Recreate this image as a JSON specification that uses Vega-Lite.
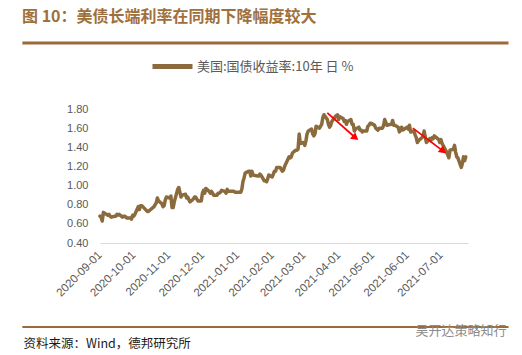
{
  "$schema": "https://vega.github.io/schema/vega-lite/v6.json",
  "width": 368,
  "height": 134,
  "autosize": {"type": "none"},
  "padding": {"left": 100, "top": 109, "right": 54, "bottom": 112},
  "background": "white",
  "config": {
    "view": {"stroke": null},
    "font": "Noto Sans CJK SC",
    "axis": {"labelOverlap": false, "labelFlush": false, "labelBound": false}
  },
  "title": {
    "text": "图 10：美债长端利率在同期下降幅度较大",
    "anchor": "start",
    "frame": "group",
    "orient": "top",
    "dx": -78,
    "offset": 16,
    "fontSize": 16,
    "fontWeight": "bold",
    "color": "#A0703C",
    "font": "Noto Sans CJK SC"
  },
  "layer": [
    {
      "data": {"values": [
        {"date":"2020-09-01","value":0.68},{"date":"2020-09-02","value":0.67},{"date":"2020-09-03","value":0.63},{"date":"2020-09-04","value":0.72},{"date":"2020-09-08","value":0.69},{"date":"2020-09-09","value":0.70},{"date":"2020-09-10","value":0.68},{"date":"2020-09-11","value":0.67},{"date":"2020-09-14","value":0.68},{"date":"2020-09-15","value":0.68},{"date":"2020-09-16","value":0.70},{"date":"2020-09-17","value":0.69},{"date":"2020-09-18","value":0.70},{"date":"2020-09-21","value":0.67},{"date":"2020-09-22","value":0.68},{"date":"2020-09-23","value":0.68},{"date":"2020-09-24","value":0.67},{"date":"2020-09-25","value":0.66},{"date":"2020-09-28","value":0.66},{"date":"2020-09-29","value":0.65},{"date":"2020-09-30","value":0.69},
        {"date":"2020-10-01","value":0.68},{"date":"2020-10-02","value":0.70},{"date":"2020-10-05","value":0.78},{"date":"2020-10-06","value":0.75},{"date":"2020-10-07","value":0.79},{"date":"2020-10-08","value":0.79},{"date":"2020-10-09","value":0.78},{"date":"2020-10-13","value":0.73},{"date":"2020-10-14","value":0.73},{"date":"2020-10-15","value":0.74},{"date":"2020-10-16","value":0.75},{"date":"2020-10-19","value":0.78},{"date":"2020-10-20","value":0.80},{"date":"2020-10-21","value":0.82},{"date":"2020-10-22","value":0.87},{"date":"2020-10-23","value":0.84},{"date":"2020-10-26","value":0.81},{"date":"2020-10-27","value":0.78},{"date":"2020-10-28","value":0.79},{"date":"2020-10-29","value":0.85},{"date":"2020-10-30","value":0.88},
        {"date":"2020-11-02","value":0.87},{"date":"2020-11-03","value":0.89},{"date":"2020-11-04","value":0.77},{"date":"2020-11-05","value":0.77},{"date":"2020-11-06","value":0.83},{"date":"2020-11-09","value":0.96},{"date":"2020-11-10","value":0.98},{"date":"2020-11-12","value":0.88},{"date":"2020-11-13","value":0.90},{"date":"2020-11-16","value":0.91},{"date":"2020-11-17","value":0.87},{"date":"2020-11-18","value":0.88},{"date":"2020-11-19","value":0.85},{"date":"2020-11-20","value":0.83},{"date":"2020-11-23","value":0.86},{"date":"2020-11-24","value":0.88},{"date":"2020-11-25","value":0.88},{"date":"2020-11-27","value":0.84},{"date":"2020-11-30","value":0.84},
        {"date":"2020-12-01","value":0.92},{"date":"2020-12-02","value":0.95},{"date":"2020-12-03","value":0.92},{"date":"2020-12-04","value":0.97},{"date":"2020-12-07","value":0.94},{"date":"2020-12-08","value":0.92},{"date":"2020-12-09","value":0.94},{"date":"2020-12-10","value":0.92},{"date":"2020-12-11","value":0.90},{"date":"2020-12-14","value":0.90},{"date":"2020-12-15","value":0.92},{"date":"2020-12-16","value":0.92},{"date":"2020-12-17","value":0.93},{"date":"2020-12-18","value":0.95},{"date":"2020-12-21","value":0.94},{"date":"2020-12-22","value":0.92},{"date":"2020-12-23","value":0.96},{"date":"2020-12-24","value":0.94},{"date":"2020-12-28","value":0.94},{"date":"2020-12-29","value":0.94},{"date":"2020-12-30","value":0.93},{"date":"2020-12-31","value":0.93},
        {"date":"2021-01-04","value":0.93},{"date":"2021-01-05","value":0.96},{"date":"2021-01-06","value":1.04},{"date":"2021-01-07","value":1.08},{"date":"2021-01-08","value":1.13},{"date":"2021-01-11","value":1.15},{"date":"2021-01-12","value":1.15},{"date":"2021-01-13","value":1.10},{"date":"2021-01-14","value":1.15},{"date":"2021-01-15","value":1.11},{"date":"2021-01-19","value":1.10},{"date":"2021-01-20","value":1.10},{"date":"2021-01-21","value":1.12},{"date":"2021-01-22","value":1.11},{"date":"2021-01-25","value":1.05},{"date":"2021-01-26","value":1.05},{"date":"2021-01-27","value":1.04},{"date":"2021-01-28","value":1.07},{"date":"2021-01-29","value":1.11},
        {"date":"2021-02-01","value":1.09},{"date":"2021-02-02","value":1.12},{"date":"2021-02-03","value":1.15},{"date":"2021-02-04","value":1.15},{"date":"2021-02-05","value":1.19},{"date":"2021-02-08","value":1.19},{"date":"2021-02-09","value":1.17},{"date":"2021-02-10","value":1.15},{"date":"2021-02-11","value":1.16},{"date":"2021-02-12","value":1.20},{"date":"2021-02-16","value":1.30},{"date":"2021-02-17","value":1.29},{"date":"2021-02-18","value":1.30},{"date":"2021-02-19","value":1.34},{"date":"2021-02-22","value":1.37},{"date":"2021-02-23","value":1.37},{"date":"2021-02-24","value":1.38},{"date":"2021-02-25","value":1.54},{"date":"2021-02-26","value":1.44},
        {"date":"2021-03-01","value":1.45},{"date":"2021-03-02","value":1.42},{"date":"2021-03-03","value":1.47},{"date":"2021-03-04","value":1.54},{"date":"2021-03-05","value":1.57},{"date":"2021-03-08","value":1.59},{"date":"2021-03-09","value":1.54},{"date":"2021-03-10","value":1.52},{"date":"2021-03-11","value":1.54},{"date":"2021-03-12","value":1.62},{"date":"2021-03-15","value":1.60},{"date":"2021-03-16","value":1.62},{"date":"2021-03-17","value":1.64},{"date":"2021-03-18","value":1.71},{"date":"2021-03-19","value":1.74},{"date":"2021-03-22","value":1.69},{"date":"2021-03-23","value":1.64},{"date":"2021-03-24","value":1.61},{"date":"2021-03-25","value":1.63},{"date":"2021-03-26","value":1.67},{"date":"2021-03-29","value":1.72},{"date":"2021-03-30","value":1.73},{"date":"2021-03-31","value":1.74},
        {"date":"2021-04-01","value":1.69},{"date":"2021-04-02","value":1.72},{"date":"2021-04-05","value":1.70},{"date":"2021-04-06","value":1.67},{"date":"2021-04-07","value":1.68},{"date":"2021-04-08","value":1.64},{"date":"2021-04-09","value":1.67},{"date":"2021-04-12","value":1.69},{"date":"2021-04-13","value":1.64},{"date":"2021-04-14","value":1.64},{"date":"2021-04-15","value":1.57},{"date":"2021-04-16","value":1.59},{"date":"2021-04-19","value":1.61},{"date":"2021-04-20","value":1.58},{"date":"2021-04-21","value":1.58},{"date":"2021-04-22","value":1.56},{"date":"2021-04-23","value":1.57},{"date":"2021-04-26","value":1.57},{"date":"2021-04-27","value":1.62},{"date":"2021-04-28","value":1.63},{"date":"2021-04-29","value":1.65},{"date":"2021-04-30","value":1.65},
        {"date":"2021-05-03","value":1.63},{"date":"2021-05-04","value":1.60},{"date":"2021-05-05","value":1.59},{"date":"2021-05-06","value":1.58},{"date":"2021-05-07","value":1.60},{"date":"2021-05-10","value":1.60},{"date":"2021-05-11","value":1.63},{"date":"2021-05-12","value":1.69},{"date":"2021-05-13","value":1.66},{"date":"2021-05-14","value":1.63},{"date":"2021-05-17","value":1.64},{"date":"2021-05-18","value":1.64},{"date":"2021-05-19","value":1.68},{"date":"2021-05-20","value":1.63},{"date":"2021-05-21","value":1.63},{"date":"2021-05-24","value":1.61},{"date":"2021-05-25","value":1.56},{"date":"2021-05-26","value":1.58},{"date":"2021-05-27","value":1.61},{"date":"2021-05-28","value":1.58},
        {"date":"2021-06-01","value":1.61},{"date":"2021-06-02","value":1.59},{"date":"2021-06-03","value":1.63},{"date":"2021-06-04","value":1.56},{"date":"2021-06-07","value":1.57},{"date":"2021-06-08","value":1.53},{"date":"2021-06-09","value":1.50},{"date":"2021-06-10","value":1.45},{"date":"2021-06-11","value":1.47},{"date":"2021-06-14","value":1.50},{"date":"2021-06-15","value":1.51},{"date":"2021-06-16","value":1.57},{"date":"2021-06-17","value":1.51},{"date":"2021-06-18","value":1.45},{"date":"2021-06-21","value":1.49},{"date":"2021-06-22","value":1.47},{"date":"2021-06-23","value":1.50},{"date":"2021-06-24","value":1.49},{"date":"2021-06-25","value":1.52},{"date":"2021-06-28","value":1.49},{"date":"2021-06-29","value":1.48},{"date":"2021-06-30","value":1.45},
        {"date":"2021-07-01","value":1.48},{"date":"2021-07-02","value":1.44},{"date":"2021-07-06","value":1.35},{"date":"2021-07-07","value":1.32},{"date":"2021-07-08","value":1.29},{"date":"2021-07-09","value":1.37},{"date":"2021-07-12","value":1.38},{"date":"2021-07-13","value":1.42},{"date":"2021-07-14","value":1.35},{"date":"2021-07-15","value":1.30},{"date":"2021-07-16","value":1.29},{"date":"2021-07-19","value":1.19},{"date":"2021-07-20","value":1.23},{"date":"2021-07-21","value":1.30},{"date":"2021-07-22","value":1.26},{"date":"2021-07-23","value":1.30}
      ]},
      "mark": {"type": "line", "strokeWidth": 3.5, "strokeJoin": "round", "strokeCap": "round"},
      "encoding": {
        "x": {
          "field": "date",
          "type": "temporal",
          "scale": {"type": "utc", "domain": [{"year": 2020, "month": 9, "date": 1, "utc": true}, {"year": 2021, "month": 7, "date": 25, "utc": true}]},
          "axis": {
            "values": [
              {"year": 2020, "month": 9, "date": 1, "utc": true},
              {"year": 2020, "month": 10, "date": 1, "utc": true},
              {"year": 2020, "month": 11, "date": 1, "utc": true},
              {"year": 2020, "month": 12, "date": 1, "utc": true},
              {"year": 2021, "month": 1, "date": 1, "utc": true},
              {"year": 2021, "month": 2, "date": 1, "utc": true},
              {"year": 2021, "month": 3, "date": 1, "utc": true},
              {"year": 2021, "month": 4, "date": 1, "utc": true},
              {"year": 2021, "month": 5, "date": 1, "utc": true},
              {"year": 2021, "month": 6, "date": 1, "utc": true},
              {"year": 2021, "month": 7, "date": 1, "utc": true}
            ],
            "tickCount": 30,
            "format": "%Y-%m-%d",
            "labelAngle": -45,
            "labelAlign": "right",
            "labelBaseline": "middle",
            "labelPadding": 10,
            "labelFlush": false,
            "labelOverlap": false,
            "ticks": false,
            "grid": false,
            "domainColor": "#d9d9d9",
            "domainWidth": 1,
            "labelFont": "Liberation Sans",
            "labelFontSize": 11.5,
            "labelColor": "#595959",
            "title": "资料来源：Wind，德邦研究所",
            "titleX": -77,
            "titleY": 100,
            "titleAlign": "left",
            "titleAnchor": "start",
            "titleBaseline": "middle",
            "titleFont": "Noto Sans CJK SC",
            "titleFontSize": 12.5,
            "titleFontWeight": "normal",
            "titleColor": "#1a1a1a"
          }
        },
        "y": {
          "field": "value",
          "type": "quantitative",
          "scale": {"domain": [0.4, 1.8], "nice": false, "zero": false},
          "axis": {
            "values": [0.4, 0.6, 0.8, 1.0, 1.2, 1.4, 1.6, 1.8],
            "tickCount": 30,
            "format": ".2f",
            "domain": false,
            "ticks": false,
            "grid": false,
            "labelOverlap": false,
            "labelPadding": 12,
            "labelFont": "Liberation Sans",
            "labelFontSize": 11,
            "labelColor": "#595959",
            "zindex": 1,
            "title": "吴开达策略知行",
            "titleAngle": 0,
            "titleX": 315,
            "titleY": 221,
            "titleAlign": "left",
            "titleBaseline": "middle",
            "titleFont": "Noto Sans CJK SC",
            "titleFontSize": 13,
            "titleFontWeight": "normal",
            "titleColor": "#8c8c8c"
          }
        },
        "color": {
          "datum": "美国:国债收益率:10年 日 %",
          "scale": {"range": ["#8B6B3D"]},
          "legend": {
            "orient": "none",
            "legendX": 50,
            "legendY": -65,
            "title": null,
            "symbolType": "stroke",
            "symbolSize": 1600,
            "symbolStrokeWidth": 5,
            "labelFont": "Noto Sans CJK SC",
            "labelFontSize": 13,
            "labelColor": "#595959",
            "labelOffset": 2
          }
        }
      }
    },
    {
      "data": {"values": [{}]},
      "mark": {"type": "rule", "color": "#9C6A3A", "strokeWidth": 3},
      "encoding": {
        "x": {"datum": {"year": 2020, "month": 6, "date": 24, "utc": true}, "type": "temporal"},
        "x2": {"datum": {"year": 2021, "month": 8, "date": 30, "utc": true}},
        "y": {"datum": 2.49, "type": "quantitative"}
      }
    },
    {
      "data": {"values": [{}]},
      "mark": {"type": "rule", "color": "#9C6A3A", "strokeWidth": 2},
      "encoding": {
        "x": {"datum": {"year": 2020, "month": 6, "date": 24, "utc": true}, "type": "temporal"},
        "x2": {"datum": {"year": 2021, "month": 8, "date": 30, "utc": true}},
        "y": {"datum": -0.478, "type": "quantitative"}
      }
    },
    {
      "data": {"values": [
        {"start": "2021-03-22", "v0": 1.76, "end": "2021-04-16", "v1": 1.50},
        {"start": "2021-06-06", "v0": 1.60, "end": "2021-07-03", "v1": 1.36}
      ]},
      "layer": [
        {
          "mark": {"type": "rule", "color": "#FF0000", "strokeWidth": 1.8},
          "encoding": {
            "x": {"field": "start", "type": "temporal"},
            "x2": {"field": "end"},
            "y": {"field": "v0", "type": "quantitative"},
            "y2": {"field": "v1"}
          }
        },
        {
          "mark": {"type": "point", "shape": "triangle-right", "filled": true, "color": "#FF0000", "opacity": 1, "size": 70, "angle": 39},
          "encoding": {
            "x": {"field": "end", "type": "temporal"},
            "y": {"field": "v1", "type": "quantitative"}
          }
        }
      ]
    }
  ]
}
